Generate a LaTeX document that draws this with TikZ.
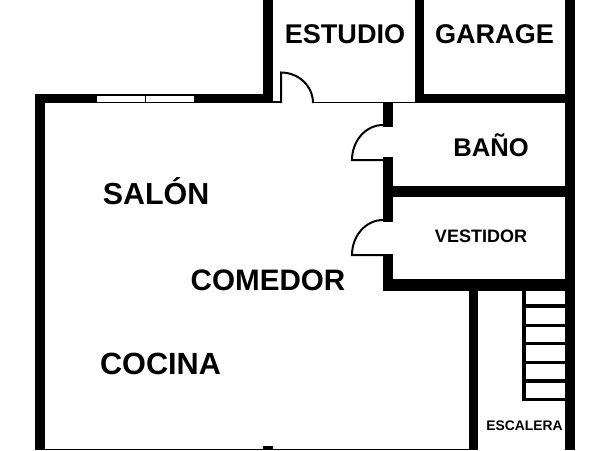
\documentclass[tikz,border=0pt]{standalone}
\usepackage{fontspec}
\setmainfont{Liberation Sans}

\newcommand{\labelfont}[1]{\fontsize{#1}{#1}\selectfont\bfseries}

\begin{document}
\begin{tikzpicture}[
        x=0.75pt,
        y=-0.75pt,
        line cap=butt]

        \tikzset{wall/.style={fill = black, draw = none}}
        \tikzset{leaf/.style={draw = black, line width = 1.5pt, fill = none}}
        \tikzset{thinline/.style={draw = black, line width = 1pt}}
        \tikzset{rung/.style={draw = black, line width = 2.5pt}}
        \tikzset{l/.style={anchor = base, inner sep = 0pt, text = black}}

        \useasboundingbox (0,0) rectangle (600,450);

        % outer walls
        \path[wall] (35,94) rectangle (45,450);
        \path[wall] (35,94) rectangle (273,103);
        \path[wall] (263,0) rectangle (273,103);
        \path[wall] (273,100.5) rectangle (281,103);
        \path[wall] (565,0) rectangle (575,450);
        \path[wall] (263,446) rectangle (273,450);

        % window
        \path[fill = white] (97,96) rectangle (194,102);
        \draw[line width = 0.9pt] (145.3,95) -- (145.3,103);

        % inner walls
        \path[wall] (415,0) rectangle (424,103);
        \path[wall] (415,94) rectangle (565,103);
        \path[wall] (383,103) rectangle (393,127);
        \path[wall] (383,157) rectangle (393,222);
        \path[wall] (393,186) rectangle (565,197);
        \path[wall] (383,254) rectangle (393,291);
        \path[wall] (383,279) rectangle (565,291);
        \path[wall] (469,291) rectangle (478,450);

        % thin lines
        \draw[thinline] (313,102.5) -- (415,102.5);
        \draw[thinline] (45,449.5) -- (469,449.5);

        % doors
        \draw[leaf] (281,103) -- (281,72.5) arc[start angle=-90, end angle=0, x radius=32, y radius=30.5];
        \draw[leaf] (383,160) -- (352,160) arc[start angle=180, end angle=270, x radius=31, y radius=35];
        \draw[leaf] (383,255) -- (352,255) arc[start angle=180, end angle=270, x radius=31, y radius=35];

        % stairs
        \draw[rung] (524,291) -- (524,399.5) -- (565,399.5);
        \foreach \y in {306,325.5,343.5,362.5,381} {
            \draw[rung] (524,\y) -- (565,\y);
        }

        % labels
        \node[l] (estudio) at (345,43.5) {\labelfont{20.3}ESTUDIO};
        \node[l] (garage) at (494.5,43.5) {\labelfont{20.3}GARAGE};
        \node[l] (bano) at (491,156.5) {\labelfont{19.2}BAÑO};
        \node[l] (vestidor) at (481,242.5) {\labelfont{13.5}VESTIDOR};
        \node[l] (escalera) at (524.5,430.5) {\labelfont{10.4}ESCALERA};
        \node[l] (salon) at (156,204.5) {\labelfont{22.8}SALÓN};
        \node[l] (comedor) at (268,290) {\labelfont{22.2}COMEDOR};
        \node[l] (cocina) at (160.5,374.5) {\labelfont{23}COCINA};
    \end{tikzpicture}
\end{document}
